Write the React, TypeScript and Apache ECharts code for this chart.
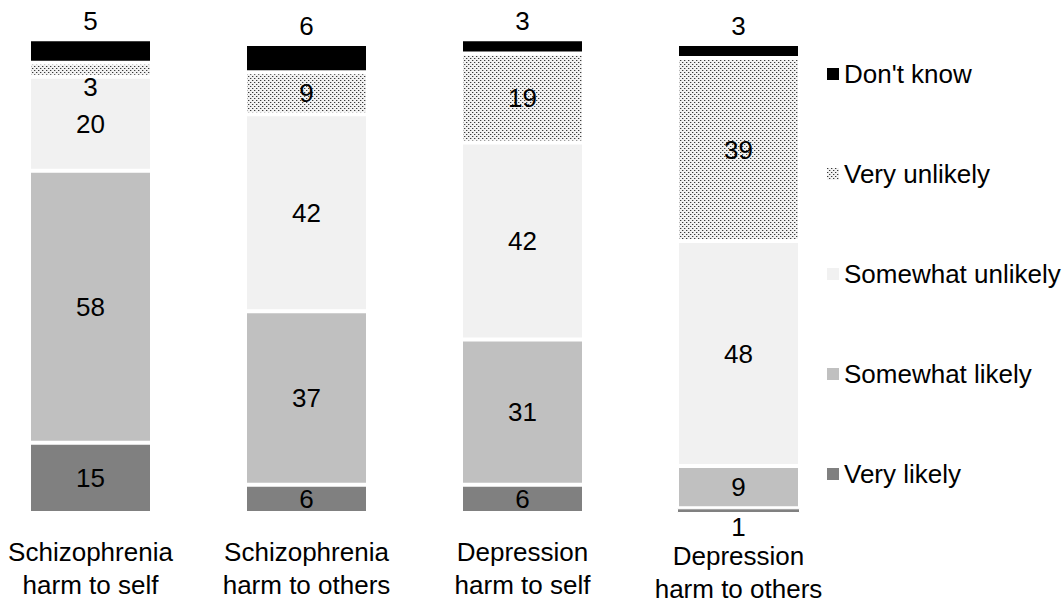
import React, { useEffect, useRef } from "react";
import * as echarts from "echarts";

// Survey categories (x axis)
const categories = [
  "Schizophrenia\nharm to self",
  "Schizophrenia\nharm to others",
  "Depression\nharm to self",
  "Depression\nharm to others",
];

// Response shares (%) for each category, stacked bottom to top
const veryLikely = [15, 6, 6, 1];
const somewhatLikely = [58, 37, 31, 9];
const somewhatUnlikely = [20, 42, 42, 48];
const veryUnlikely = [3, 9, 19, 39];
const dontKnow = [5, 6, 3, 3];

const seriesNames = [
  "Very likely",
  "Somewhat likely",
  "Somewhat unlikely",
  "Very unlikely",
  "Don't know",
];

const FONT = '"Liberation Sans Narrow", "Arial Narrow", "Liberation Sans", Arial, sans-serif';
const FS = 26;

function makeDotPattern(): HTMLCanvasElement {
  const c = document.createElement("canvas");
  c.width = 4;
  c.height = 4;
  const ctx = c.getContext("2d")!;
  ctx.fillStyle = "#f2f2f2";
  ctx.fillRect(0, 0, 4, 4);
  ctx.fillStyle = "#3a3a3a";
  ctx.fillRect(0, 0, 1, 1);
  ctx.fillRect(2, 2, 1, 1);
  ctx.fillStyle = "#b8b8b8";
  ctx.fillRect(1, 0, 1, 1);
  ctx.fillRect(3, 2, 1, 1);
  return c;
}

export default function App() {
  const ref = useRef<HTMLDivElement>(null);

  useEffect(() => {
    if (!ref.current) return;
    const chart = echarts.init(ref.current, undefined, { renderer: "svg" });
    const dots = { image: makeDotPattern(), repeat: "repeat" } as any;

    const labelBase = {
      show: true,
      color: "#000",
      fontFamily: FONT,
      fontSize: FS,
    };

    const mk = (
      name: string,
      values: number[],
      color: any,
      label: any,
      perItem?: (i: number) => any
    ) => ({
      name,
      type: "bar",
      stack: "total",
      barWidth: 123,
      clip: false,
      itemStyle: { color, borderColor: "#ffffff", borderWidth: 2 },
      label: { ...labelBase, ...label },
      data: values.map((v, i) => {
        const extra = perItem ? perItem(i) : null;
        return extra ? { value: v, ...extra } : v;
      }),
    });

    // the last category label sits a little lower, below the "1" label
    const axisData = categories.map((c, i) =>
      i === 3 ? { value: c, textStyle: { padding: [4, 0, 0, 0] } } : c
    );

    chart.setOption({
      animation: false,
      backgroundColor: "#ffffff",
      grid: {
        left: -17.5,
        width: 864,
        top: 44,
        height: 469,
        containLabel: false,
        outerBoundsMode: "none",
      },
      xAxis: {
        type: "category",
        data: axisData,
        axisLine: { show: false },
        axisTick: { show: false },
        axisLabel: {
          interval: 0,
          margin: 22,
          color: "#000",
          fontFamily: FONT,
          fontSize: FS,
          lineHeight: 33,
        },
      },
      yAxis: { type: "value", min: 0, max: 100, show: false },
      legend: {
        orient: "vertical",
        left: 822,
        top: 56,
        itemWidth: 12,
        itemHeight: 12,
        itemGap: 74,
        icon: "rect",
        itemStyle: { borderWidth: 0 },
        textStyle: { fontFamily: FONT, fontSize: FS, color: "#000" },
        data: [...seriesNames].reverse(),
      },
      series: [
        mk("Very likely", veryLikely, "#808080", { position: "inside" }, (i) =>
          i === 3
            ? {
                itemStyle: { borderWidth: 1 },
                label: { position: "bottom", distance: 1 },
              }
            : null
        ),
        mk("Somewhat likely", somewhatLikely, "#c0c0c0", { position: "inside" }),
        mk("Somewhat unlikely", somewhatUnlikely, "#f1f1f1", { position: "inside" }),
        mk("Very unlikely", veryUnlikely, dots, { position: "inside" }, (i) =>
          i === 0 ? { label: { position: "inside", offset: [0, 17] } } : null
        ),
        mk("Don't know", dontKnow, "#000000", { position: "top", distance: 5 }),
      ],
    });

    return () => chart.dispose();
  }, []);

  return (
    <div
      ref={ref}
      style={{ position: "absolute", left: 0, top: 0, width: 1063, height: 604 }}
    />
  );
}
